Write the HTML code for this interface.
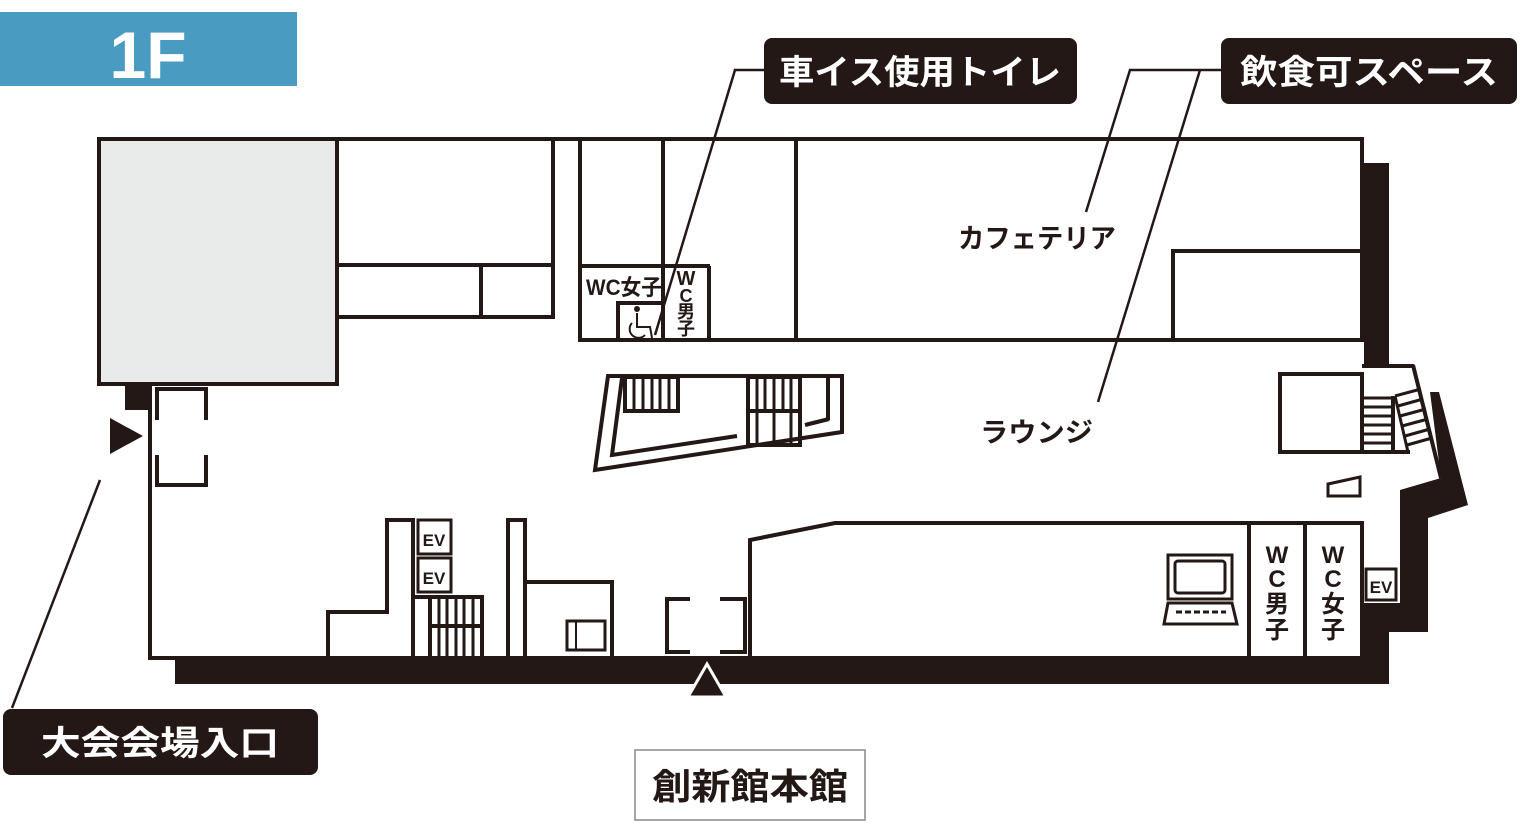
<!DOCTYPE html>
<html><head><meta charset="utf-8"><style>
html,body{margin:0;padding:0;background:#fff;}
svg{display:block;}
text{font-family:"Liberation Sans","Noto Sans CJK JP",sans-serif;}
</style></head><body>
<svg width="1530" height="839" viewBox="0 0 1530 839" xmlns="http://www.w3.org/2000/svg">
<rect x="0" y="12" width="297" height="74" fill="#4a9bc1"/>
<text x="148" y="78" font-size="66" font-weight="bold" fill="#fff" text-anchor="middle">1F</text>

<g fill="none" stroke="#231815" stroke-width="4">
<!-- gray box -->
<rect x="99" y="139" width="238" height="245" fill="#e9ebea"/>
<line x1="97" y1="139" x2="1364" y2="139"/>
<line x1="1362" y1="137" x2="1362" y2="342"/>
<line x1="150" y1="384" x2="150" y2="660"/>
<line x1="148" y1="658" x2="1364" y2="658"/>
<!-- upper left rooms -->
<line x1="337" y1="265" x2="555" y2="265"/>
<line x1="337" y1="317" x2="555" y2="317"/>
<line x1="553" y1="139" x2="553" y2="317"/>
<line x1="481" y1="265" x2="481" y2="317"/>
<!-- WC area -->
<line x1="580" y1="139" x2="580" y2="340"/>
<line x1="663" y1="139" x2="663" y2="340"/>
<line x1="796" y1="139" x2="796" y2="340"/>
<line x1="578" y1="340" x2="1362" y2="340"/>
<line x1="580" y1="266" x2="710" y2="266"/>
<line x1="709" y1="266" x2="709" y2="340"/>
<polyline points="618,340 618,303 663,303"/>
<rect x="1173" y="251" width="190" height="89"/>
<!-- entrance door left -->
<polyline points="157,420 157,389 206,389 206,420"/>
<polyline points="157,455 157,485 206,485 206,455"/>
<!-- central stair island -->
<polygon points="608,376 842,376 842,432 595,470"/>
<polyline points="622,378 612,455 737,436"/>
<rect x="625" y="377" width="53" height="34"/>
<rect x="748" y="377" width="52" height="68"/>
<line x1="748" y1="411" x2="800" y2="411"/>
<line x1="828" y1="377" x2="828" y2="420"/>
<line x1="805" y1="425" x2="829" y2="419"/>
<!-- right stairs -->
<line x1="1362" y1="366" x2="1414" y2="366"/>
<line x1="1413" y1="365" x2="1441" y2="478"/>
<rect x="1280" y="374" width="82" height="78"/>
<line x1="1362" y1="452" x2="1410" y2="452"/>
<line x1="1393" y1="396" x2="1393" y2="452"/>
<rect x="1328" y="478" width="32" height="18" transform="skewY(0)" stroke-width="3" fill="none" style="display:none"/>
<polygon points="1328,484 1360,477 1360,496 1328,496" stroke-width="3"/>
<!-- lower right -->
<polyline points="750,658 750,540 835,523 1362,523 1362,658"/>
<line x1="1249" y1="523" x2="1249" y2="658"/>
<line x1="1305" y1="523" x2="1305" y2="658"/>
<rect x="1366" y="569" width="30" height="31" stroke-width="3"/>
<!-- bottom door -->
<polyline points="690,599 667,599 667,652 690,652"/>
<polyline points="720,599 745,599 745,652 720,652"/>
<!-- lower left -->
<polyline points="328,658 328,612 387,612 387,520 413,520 413,658"/>
<rect x="418" y="520" width="33" height="34" stroke-width="3"/>
<rect x="418" y="558" width="33" height="34" stroke-width="3"/>
<polyline points="415,597 482,597 482,658"/>
<line x1="430" y1="597" x2="430" y2="658"/>
<line x1="430" y1="626" x2="482" y2="626"/>
<rect x="508" y="520" width="17" height="138"/>
<polyline points="525,582 612,582 612,658"/>
<rect x="567" y="621" width="38" height="29" stroke-width="3"/>
<line x1="576" y1="621" x2="576" y2="650" stroke-width="2"/>
</g>
<g stroke="#231815" stroke-width="3">
<line x1="634" y1="377" x2="634" y2="411"/><line x1="643" y1="377" x2="643" y2="411"/><line x1="652" y1="377" x2="652" y2="411"/><line x1="660" y1="377" x2="660" y2="411"/><line x1="669" y1="377" x2="669" y2="411"/>
<line x1="757" y1="377" x2="757" y2="445"/><line x1="765" y1="377" x2="765" y2="411"/><line x1="774" y1="377" x2="774" y2="445"/><line x1="783" y1="377" x2="783" y2="411"/><line x1="791" y1="377" x2="791" y2="445"/>
<line x1="439" y1="597" x2="439" y2="658"/><line x1="447" y1="597" x2="447" y2="658"/><line x1="456" y1="597" x2="456" y2="658"/><line x1="464" y1="597" x2="464" y2="658"/><line x1="473" y1="597" x2="473" y2="658"/>
<line x1="1362" y1="398" x2="1393" y2="398"/><line x1="1362" y1="407" x2="1393" y2="407"/><line x1="1362" y1="416" x2="1393" y2="416"/><line x1="1362" y1="425" x2="1393" y2="425"/><line x1="1362" y1="434" x2="1393" y2="434"/><line x1="1362" y1="443" x2="1393" y2="443"/>
<line x1="1395" y1="396" x2="1421" y2="389"/><line x1="1398" y1="406" x2="1423" y2="399"/><line x1="1400" y1="416" x2="1426" y2="409"/><line x1="1402" y1="426" x2="1428" y2="419"/><line x1="1405" y1="436" x2="1430" y2="429"/><line x1="1407" y1="445" x2="1432" y2="438"/>
<line x1="1395" y1="396" x2="1408" y2="452"/>
</g>
<!-- black walls -->
<g fill="#231815">
<rect x="1364" y="163" width="25" height="203"/>
<rect x="125" y="384" width="25" height="26"/>
<polygon points="1430,392 1439,392 1468,505 1428,518 1428,632 1389,632 1389,684 175,684 175,660 1364,660 1364,603 1400,603 1400,490 1441,478"/>
<polygon points="110,418 110,454 143,436"/>
<polygon points="688,697 726,697 707,664" stroke="#fff" stroke-width="3"/>
</g>
<!-- computer -->
<g fill="none" stroke="#231815" stroke-width="3">
<rect x="1168" y="555" width="64" height="44"/>
<rect x="1175" y="561" width="50" height="32" rx="3"/>
<polygon points="1168,603 1232,603 1237,624 1164,624"/>
<line x1="1176" y1="612" x2="1226" y2="612" stroke-dasharray="6,3"/>
</g>
<!-- wheelchair -->
<g fill="none" stroke="#231815" stroke-width="2">
<circle cx="637" cy="309" r="2" fill="#231815"/>
<path d="M637 313 L637 327 L650 327 L652 338 M632 323 A8 8 0 1 0 645 335"/>
</g>
<!-- room labels -->
<g fill="#231815" font-weight="bold">
<text x="586" y="295" font-size="22" textLength="76" lengthAdjust="spacingAndGlyphs">WC女子</text>
<text x="686" y="285" font-size="20" text-anchor="middle">W</text>
<text x="686" y="302" font-size="18" text-anchor="middle">C</text>
<text x="686" y="318" font-size="18" text-anchor="middle">男</text>
<text x="686" y="335" font-size="18" text-anchor="middle">子</text>
<text x="1277" y="563" font-size="24" text-anchor="middle">W</text>
<text x="1277" y="587" font-size="24" text-anchor="middle">C</text>
<text x="1277" y="612" font-size="24" text-anchor="middle">男</text>
<text x="1277" y="638" font-size="24" text-anchor="middle">子</text>
<text x="1333" y="563" font-size="24" text-anchor="middle">W</text>
<text x="1333" y="587" font-size="24" text-anchor="middle">C</text>
<text x="1333" y="612" font-size="24" text-anchor="middle">女</text>
<text x="1333" y="638" font-size="24" text-anchor="middle">子</text>
<text x="434" y="546" font-size="17" text-anchor="middle">EV</text>
<text x="434" y="584" font-size="17" text-anchor="middle">EV</text>
<text x="1381" y="593" font-size="17" text-anchor="middle">EV</text>
<text x="958" y="248" font-size="27" textLength="158" lengthAdjust="spacingAndGlyphs">カフェテリア</text>
<text x="980" y="442" font-size="27" textLength="113" lengthAdjust="spacingAndGlyphs">ラウンジ</text>
</g>
<!-- leaders -->
<g fill="none" stroke="#231815" stroke-width="2.5">
<polyline points="766,70 735,70 655,335"/>
<polyline points="1222,70 1130,70 1086,212"/>
<polyline points="1200,70 1098,402"/>
<line x1="100" y1="480" x2="12" y2="708"/>
</g>
<!-- callout boxes -->
<rect x="764" y="38" width="313" height="66" rx="8" fill="#231815"/>
<text x="920" y="84" font-size="34" fill="#fff" text-anchor="middle" font-weight="bold" textLength="282" lengthAdjust="spacingAndGlyphs">車イス使用トイレ</text>
<rect x="1221" y="38" width="296" height="66" rx="8" fill="#231815"/>
<text x="1369" y="84" font-size="34" fill="#fff" text-anchor="middle" font-weight="bold" textLength="258" lengthAdjust="spacingAndGlyphs">飲食可スペース</text>
<rect x="3" y="709" width="315" height="66" rx="8" fill="#231815"/>
<text x="160" y="755" font-size="34" fill="#fff" text-anchor="middle" font-weight="bold" textLength="238" lengthAdjust="spacingAndGlyphs">大会会場入口</text>
<rect x="635" y="750" width="230" height="70" fill="#fff" stroke="#888" stroke-width="1.5"/>
<text x="750" y="799" font-size="36" fill="#231815" text-anchor="middle" font-weight="bold" textLength="196" lengthAdjust="spacingAndGlyphs">創新館本館</text>
</svg>
</body></html>
